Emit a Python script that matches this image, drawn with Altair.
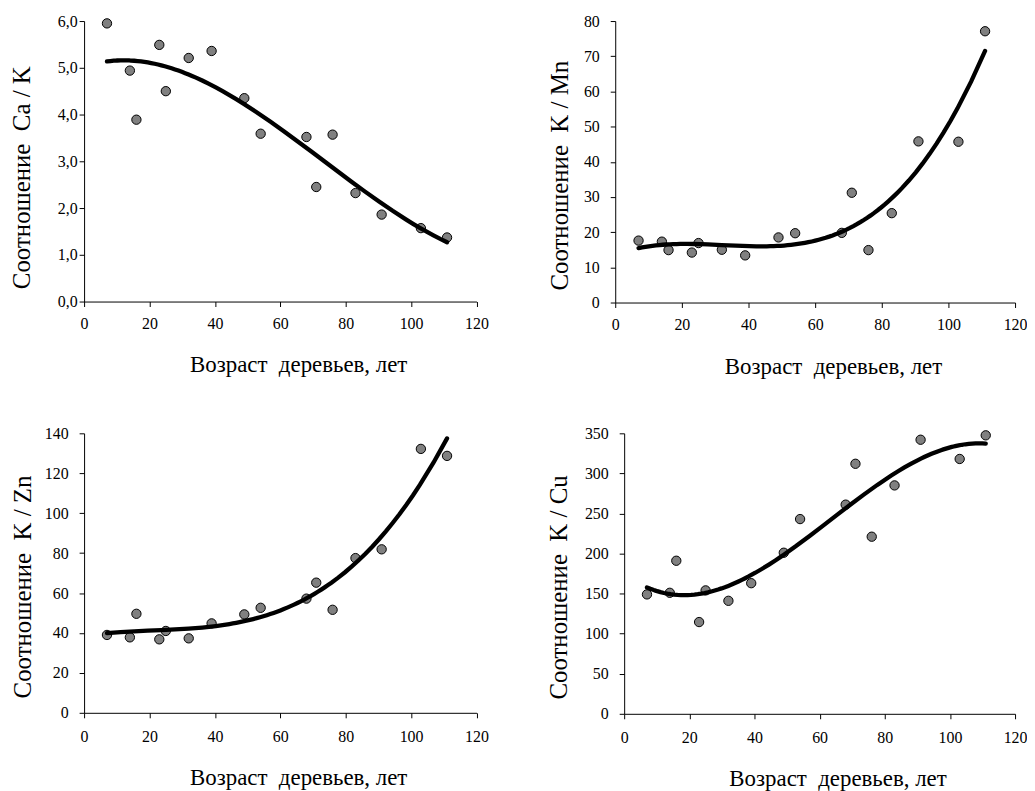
import altair as alt
import pandas as pd

# ---- data ----
ages = [7, 14, 16, 23, 25, 32, 39, 49, 54, 68, 71, 76, 83, 91, 103, 111]
ca_k = [5.95, 4.94, 3.89, 5.49, 4.50, 5.21, 5.36, 4.35, 3.59, 3.52, 2.45, 3.57, 2.32, 1.86, 1.57, 1.37]
k_mn = [17.6, 17.3, 14.9, 14.2, 16.9, 15.0, 13.4, 18.5, 19.7, 19.8, 31.2, 14.9, 25.4, 45.8, 45.7, 77.1]
k_zn = [39.0, 37.8, 49.6, 36.8, 41.0, 37.3, 44.8, 49.3, 52.6, 57.2, 65.2, 51.6, 77.5, 81.9, 132.2, 128.7]
k_cu = [149, 151, 191, 114.5, 154, 141, 163, 201, 243, 261, 312, 221, 285, 342, 318, 347.5]

x_ticks = [0, 20, 40, 60, 80, 100, 120]
x_title = "Возраст\u00a0 деревьев, лет"

FONT = "Liberation Serif, Times New Roman, serif"


def panel(values, ytitle, ymax, ystep, comma, w, h, tx, ty_off, lpad, xty, xlpad):
    df = pd.DataFrame({"age": ages, "v": values})
    yt = [round(i * ystep, 6) for i in range(int(round(ymax / ystep)) + 1)]
    yaxis_kw = dict(
        values=yt,
        title=ytitle,
        titleX=tx,
        titleY=h / 2 + ty_off,
        titleBaseline="middle",
        titleAlign="center",
        titleFontSize=25,
        titleFont=FONT,
        labelFont=FONT,
        labelFontSize=16,
        labelPadding=lpad,
    )
    if comma:
        yaxis_kw["labelExpr"] = "replace(format(datum.value, '.1f'), '.', ',')"
    x = alt.X(
        "age:Q",
        scale=alt.Scale(domain=[0, 120], nice=False, zero=False),
        axis=alt.Axis(
            values=x_ticks,
            title=x_title,
            titleX=w / 2 + 18,
            titleY=xty,
            titleBaseline="middle",
            titleAlign="center",
            titleFontSize=23,
            titleFont=FONT,
            labelFont=FONT,
            labelFontSize=16,
            labelFlush=False,
            labelPadding=xlpad,
        ),
    )
    y = alt.Y(
        "v:Q",
        scale=alt.Scale(domain=[0, ymax], nice=False),
        axis=alt.Axis(**yaxis_kw),
    )
    base = alt.Chart(df)
    pts = base.mark_circle(
        color="#808080", stroke="black", strokeWidth=1, size=88, opacity=1
    ).encode(x=x, y=y)
    line = (
        base.transform_regression("age", "v", method="poly", order=3)
        .mark_line(color="black", strokeWidth=4.3, strokeCap="round")
        .encode(x=x, y=y)
    )
    return alt.layer(pts, line).properties(width=w, height=h)


p1 = panel(ca_k, "Соотношение\u00a0 Ca / K", 6, 1, True, 394.5, 282, -62.5, 16, 2, 63, 9)
p2 = panel(k_mn, "Соотношение\u00a0 K / Mn", 80, 10, False, 402, 283, -56, 13.5, 11, 64, 9)
p3 = panel(k_zn, "Соотношение\u00a0 K / Zn", 140, 20, False, 394.5, 281, -61.5, 13.5, 11, 65, 10.5)
p4 = panel(k_cu, "Соотношение\u00a0 K / Cu", 350, 50, False, 393, 282, -65.5, 13.5, 11, 65.5, 10.5)

row1 = alt.hconcat(p1, p2, spacing=139, bounds="flush")
row2 = alt.hconcat(p3, p4, spacing=148, bounds="flush")

chart = (
    alt.vconcat(row1, row2, spacing=47.5)
    .properties(padding={"left": 1.5, "top": 3, "right": 0, "bottom": 0}, background="white")
    .configure(font=FONT)
    .configure_view(stroke=None)
    .configure_axis(
        grid=False,
        domainColor="black",
        domainWidth=1,
        tickColor="black",
        tickSize=5,
        labelColor="black",
        titleColor="black",
        labelFont=FONT,
        titleFont=FONT,
        labelFontSize=16,
        titleFontWeight="normal",
    )
)

chart.save("out.html", embed_options={"renderer": "svg", "actions": False})
